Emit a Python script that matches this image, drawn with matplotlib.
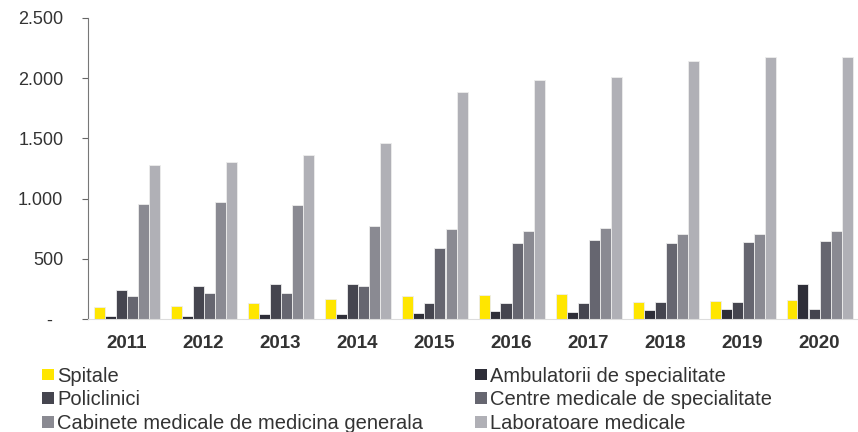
import numpy as np
import matplotlib.pyplot as plt
from matplotlib.ticker import FuncFormatter

years = ['2011', '2012', '2013', '2014', '2015', '2016', '2017', '2018', '2019', '2020']

spitale = [97, 108, 133, 162, 187, 200, 208, 145, 153, 158]
ambulatorii = [22, 25, 39, 45, 53, 64, 56, 72, 83, 289]
policlinici = [245, 272, 289, 289, 131, 137, 133, 145, 145, 81]
centre = [192, 212, 214, 275, 589, 628, 656, 633, 639, 645]
cabinete = [953, 970, 945, 775, 750, 733, 756, 706, 708, 729]
laboratoare = [1275, 1308, 1363, 1458, 1883, 1989, 2006, 2142, 2178, 2173]

series = [
    ('Spitale', spitale, '#FFE600'),
    ('Ambulatorii de specialitate', ambulatorii, '#2E2E38'),
    ('Policlinici', policlinici, '#45454F'),
    ('Centre medicale de specialitate', centre, '#666670'),
    ('Cabinete medicale de medicina generala', cabinete, '#8A8A92'),
    ('Laboratoare medicale', laboratoare, '#B0B0B6'),
]

plt.rcParams['font.family'] = ['Liberation Sans', 'DejaVu Sans']

fig = plt.figure(figsize=(8.58, 4.32), dpi=100)
ax = fig.add_axes([88 / 858, 1 - 319 / 432, 770 / 858, 301 / 432])

x = np.arange(len(years))
w = 66 / 77 / 6
bars = []
for i, (name, vals, col) in enumerate(series):
    b = ax.bar(x - 33 / 77 + w * (i + 0.5), vals, width=w, color=col,
               edgecolor='#EDEDED', linewidth=0.6, label=name)
    bars.append(b)

ax.set_xlim(-0.5, 9.5)
ax.set_ylim(0, 2500)
ax.set_yticks([0, 500, 1000, 1500, 2000, 2500])
ax.yaxis.set_major_formatter(FuncFormatter(
    lambda v, p: '-  ' if v == 0 else f'{int(v):,}'.replace(',', '.')))
ax.tick_params(axis='y', labelsize=13, colors='#666666', labelcolor='#333333',
               length=4.3, width=0.8, pad=13.5)
ax.set_xticks(x)
ax.set_xticklabels(years, fontsize=13.5, fontweight='bold', color='#333333')
ax.tick_params(axis='x', length=0, pad=11.5)

for s in ['top', 'right']:
    ax.spines[s].set_visible(False)
ax.spines['left'].set_color('#777777')
ax.spines['left'].set_linewidth(0.8)
ax.spines['bottom'].set_color('#DDDDDD')
ax.spines['bottom'].set_linewidth(0.8)

# two legend columns placed separately
leg_kw = dict(loc='upper left', frameon=False, borderpad=0, borderaxespad=0,
              handlelength=0.6, handleheight=0.5, handletextpad=0.15,
              labelspacing=0.24, fontsize=14.5, labelcolor='#333333')
for idx, x0 in [([0, 2, 4], 42), ([1, 3, 5], 475)]:
    leg = fig.legend([bars[k] for k in idx], [series[k][0] for k in idx],
                     bbox_to_anchor=(x0 / 858, 1 - 366.5 / 432), **leg_kw)
    for h in leg.legend_handles:
        h.set_edgecolor('none')

fig.savefig('out.png', dpi=100)
